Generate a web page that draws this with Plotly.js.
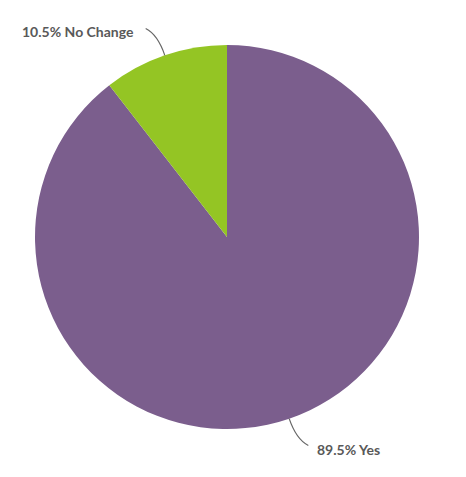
<!DOCTYPE html>
<html><head><meta charset="utf-8">
<script src="https://cdn.plot.ly/plotly-3.0.1.min.js"></script>
<style>html,body{margin:0;padding:0;background:#fff}</style>
</head><body><div id="chart" style="width:466px;height:477px"></div>
<script>
const labels = ["Yes", "No Change"];
const values = [89.5, 10.5];
const colors = ["#7b5e8d", "#94c524"];

const W = 466, H = 477;
const M = {l: 35, r: 47, t: 45, b: 48};
const PW = W - M.l - M.r, PH = H - M.t - M.b;
const cx = M.l + PW / 2, cy = M.t + PH / 2, R = Math.min(PW, PH) / 2;
const toPX = px => (px - M.l) / PW;
const toPY = py => (H - M.b - py) / PH;

const total = values.reduce((a, b) => a + b, 0);
const annotations = [], shapes = [];
let cum = 0;
values.forEach((v, i) => {
  const mid = (cum + v / 2) / total * 2 * Math.PI; // clockwise from top
  cum += v;
  const sx = Math.sin(mid), sy = -Math.cos(mid);
  const ex = cx + R * sx, ey = cy + R * sy;          // edge
  const kx = cx + (R + 22) * sx, ky = cy + (R + 22) * sy; // control
  const right = sx >= 0;
  const tx = kx + (right ? 12 : -12), ty = ky + (sy > 0 ? 6 : -6);
  shapes.push({
    type: "path", xref: "paper", yref: "paper",
    path: `M ${toPX(ex)} ${toPY(ey)} Q ${toPX(kx)} ${toPY(ky)} ${toPX(tx)} ${toPY(ty)}`,
    line: {color: "#666", width: 1.2}
  });
  annotations.push({
    xref: "paper", yref: "paper",
    x: toPX(tx + (right ? 7 : -10)), y: toPY(ty + (sy > 0 ? 4 : 3)),
    xanchor: right ? "left" : "right", yanchor: "middle",
    text: (v / total * 100).toFixed(1) + "% " + labels[i],
    showarrow: false,
    font: {family: "Lato, sans-serif", size: 14, color: "#595959", weight: 700}
  });
});

Plotly.newPlot("chart", [{
  type: "pie",
  labels: labels,
  values: values,
  sort: false,
  direction: "clockwise",
  rotation: 0,
  textinfo: "none",
  hoverinfo: "label+percent",
  marker: {colors: colors, line: {width: 0}}
}], {
  width: W, height: H,
  margin: M,
  showlegend: false,
  paper_bgcolor: "#fff",
  shapes: shapes,
  annotations: annotations
}, {displayModeBar: false});
</script></body></html>
